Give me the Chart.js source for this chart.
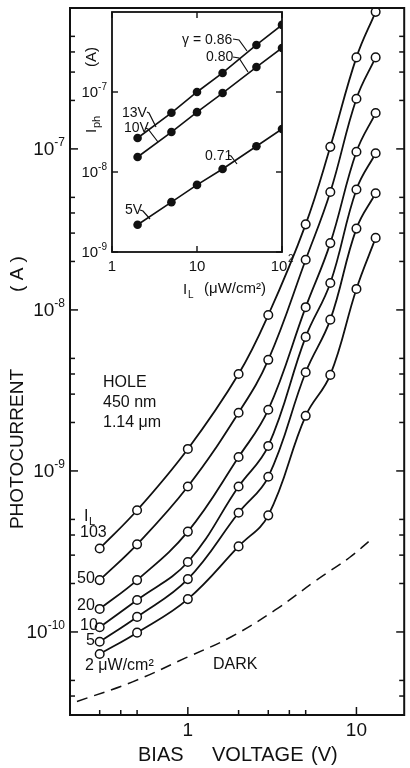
<!DOCTYPE html>
<html>
<head>
<meta charset="utf-8">
<script src="https://cdn.jsdelivr.net/npm/chart.js@4.4.1/dist/chart.umd.min.js"></script>
<style>
html, body { margin: 0; padding: 0; background: #fff; }
#wrap { position: relative; width: 410px; height: 768px; }
#wrap canvas { position: absolute; left: 0; top: 0; }
#insetChart { pointer-events: none; }
</style>
</head>
<body>
<div id="wrap">
  <canvas id="mainChart" width="410" height="768"></canvas>
  <canvas id="insetChart" width="410" height="768"></canvas>
</div>
<script>
// main plot: photocurrent (A) vs bias voltage (V), one curve per light intensity (uW/cm2)
var biasVoltage = [0.3, 0.5, 1, 2, 3, 5, 7, 10, 13];
var intensityLabels = ['103', '50', '20', '10', '5', '2'];
var photo103 = [3.3e-10, 5.7e-10, 1.37e-9, 4.0e-9, 9.3e-9, 3.4e-8, 1.03e-7, 3.7e-7, 7.1e-7];
var photo50  = [2.1e-10, 3.5e-10, 8.0e-10, 2.3e-9, 4.9e-9, 2.05e-8, 5.4e-8, 2.05e-7, 3.7e-7];
var photo20  = [1.39e-10, 2.1e-10, 4.2e-10, 1.22e-9, 2.4e-9, 1.04e-8, 2.6e-8, 9.6e-8, 1.67e-7];
var photo10  = [1.07e-10, 1.58e-10, 2.72e-10, 8.0e-10, 1.43e-9, 6.8e-9, 1.47e-8, 5.6e-8, 9.4e-8];
var photo5   = [8.7e-11, 1.24e-10, 2.13e-10, 5.5e-10, 9.2e-10, 4.1e-9, 8.7e-9, 3.2e-8, 5.3e-8];
var photo2   = [7.3e-11, 9.9e-11, 1.6e-10, 3.4e-10, 5.3e-10, 2.2e-9, 3.95e-9, 1.35e-8, 2.8e-8];
var darkVoltage = [0.22, 0.47, 0.97, 1.8, 3.3, 5.8, 9.1, 12.4];
var darkCurrent = [3.7e-11, 4.9e-11, 6.9e-11, 9.3e-11, 1.37e-10, 2.1e-10, 2.9e-10, 3.8e-10];

var xTickValues = [0.3, 0.4, 0.5, 1, 2, 3, 4, 5, 10];
var xTickLabels = ['1', '10'];
var yTickValues = [4e-11, 5e-11, 1e-10, 2e-10, 3e-10, 4e-10, 5e-10, 1e-9, 2e-9, 3e-9, 4e-9, 5e-9,
                   1e-8, 2e-8, 3e-8, 4e-8, 5e-8, 1e-7, 2e-7, 3e-7, 4e-7, 5e-7];
var yDecades = [-10, -9, -8, -7];

// inset: photocurrent vs light intensity at fixed bias
var insetIntensity = [2, 5, 10, 20, 50, 100];
var inset13V = [2.66e-8, 5.5e-8, 1.0e-7, 1.73e-7, 3.87e-7, 6.9e-7];
var inset10V = [1.54e-8, 3.16e-8, 5.6e-8, 9.7e-8, 2.05e-7, 3.55e-7];
var inset5V  = [2.19e-9, 4.2e-9, 6.9e-9, 1.09e-8, 2.1e-8, 3.45e-8];
var insetXTicks = [1, 10, 100];
var insetYDecades = [-9, -8, -7];

var FONT = '"Liberation Sans", Arial, sans-serif';
var INK = '#111';

function pairs(xs, ys) {
    return xs.map(function(x, i) { return { x: x, y: ys[i] }; });
}

function isDecade(v) {
    var l = Math.log10(v);
    return Math.abs(l - Math.round(l)) < 1e-6;
}

function line(ctx, x1, y1, x2, y2) {
    ctx.beginPath();
    ctx.moveTo(x1, y1);
    ctx.lineTo(x2, y2);
    ctx.stroke();
}

// "10" with a raised exponent, right edge at xr, vertically centred on y
function powLabel(ctx, exp, xr, y, size, supSize) {
    ctx.textBaseline = 'middle';
    ctx.textAlign = 'left';
    ctx.font = size + 'px ' + FONT;
    var w1 = ctx.measureText('10').width;
    ctx.font = supSize + 'px ' + FONT;
    var w2 = ctx.measureText(exp).width;
    var x0 = xr - w1 - w2;
    ctx.font = size + 'px ' + FONT;
    ctx.fillText('10', x0, y);
    ctx.font = supSize + 'px ' + FONT;
    ctx.fillText(exp, x0 + w1, y - size * 0.38);
}

function text(ctx, s, x, y, size, align) {
    ctx.font = size + 'px ' + FONT;
    ctx.textAlign = align || 'left';
    ctx.textBaseline = 'middle';
    ctx.fillText(s, x, y);
}

var curveSets = [photo103, photo50, photo20, photo10, photo5, photo2];
var mainDatasets = curveSets.map(function(vals, i) {
    return {
        label: intensityLabels[i],
        data: pairs(biasVoltage, vals),
        borderColor: INK,
        borderWidth: 1.8,
        tension: 0.4,
        pointRadius: 4.3,
        pointBackgroundColor: '#fff',
        pointBorderColor: INK,
        pointBorderWidth: 1.5
    };
});
mainDatasets.push({
    label: 'DARK',
    data: pairs(darkVoltage, darkCurrent),
    borderColor: INK,
    borderWidth: 1.5,
    borderDash: [11, 7],
    tension: 0.4,
    pointRadius: 0
});

var mainDecor = {
    id: 'mainDecor',
    afterDraw: function(chart) {
        var ctx = chart.ctx, a = chart.chartArea;
        var xs = chart.scales.x, ys = chart.scales.y;
        ctx.save();
        ctx.strokeStyle = INK;
        ctx.fillStyle = INK;
        ctx.lineWidth = 2;
        ctx.strokeRect(a.left, a.top, a.right - a.left, a.bottom - a.top);
        ctx.lineWidth = 1.5;
        xTickValues.forEach(function(v) {
            var px = xs.getPixelForValue(v);
            var len = isDecade(v) ? 8 : 5;
            line(ctx, px, a.bottom, px, a.bottom - len);
        });
        yTickValues.forEach(function(v) {
            var py = ys.getPixelForValue(v);
            var len = isDecade(v) ? 8 : 5;
            line(ctx, a.left, py, a.left + len, py);
            line(ctx, a.right, py, a.right - len, py);
        });
        // tick labels
        xTickLabels.forEach(function(s) {
            text(ctx, s, xs.getPixelForValue(Number(s)), 731, 19, 'center');
        });
        yDecades.forEach(function(d) {
            powLabel(ctx, '-' + (-d), 65, ys.getPixelForValue(Math.pow(10, d)) + 1, 19, 12);
        });
        // axis titles
        text(ctx, 'BIAS', 138, 755, 20);
        text(ctx, 'VOLTAGE', 212, 755, 20);
        text(ctx, '(V)', 311, 755, 20);
        ctx.save();
        ctx.translate(18, 449);
        ctx.rotate(-Math.PI / 2);
        text(ctx, 'PHOTOCURRENT', 0, 0, 19, 'center');
        text(ctx, '( A )', 175, 0, 19, 'center');
        ctx.restore();
        // curve labels
        text(ctx, 'I', 84, 517, 16);
        text(ctx, 'L', 89, 522, 11);
        text(ctx, '103', 80, 533, 16);
        text(ctx, '50', 77, 579, 16);
        text(ctx, '20', 77, 606, 16);
        text(ctx, '10', 80, 626, 16);
        text(ctx, '5', 86, 641, 16);
        text(ctx, '2 \u03bcW/cm\u00b2', 85, 666, 16);
        text(ctx, 'DARK', 213, 665, 16);
        text(ctx, 'HOLE', 103, 383, 16);
        text(ctx, '450 nm', 103, 403, 16);
        text(ctx, '1.14 \u03bcm', 103, 423, 16);
        ctx.restore();
    }
};

new Chart(document.getElementById('mainChart'), {
    type: 'line',
    data: { datasets: mainDatasets },
    options: {
        responsive: false,
        animation: false,
        devicePixelRatio: 1,
        layout: { padding: { top: 8, right: 2, left: 0, bottom: 0 } },
        plugins: { legend: { display: false }, tooltip: { enabled: false } },
        scales: {
            x: {
                type: 'logarithmic', min: 0.2, max: 19.2,
                grid: { display: false }, border: { display: false }, ticks: { display: false },
                afterFit: function(s) { s.height = 53; }
            },
            y: {
                type: 'logarithmic', min: 3.05e-11, max: 7.5e-7,
                grid: { display: false }, border: { display: false }, ticks: { display: false },
                afterFit: function(s) { s.width = 70; }
            }
        }
    },
    plugins: [mainDecor]
});

var insetDatasets = [inset13V, inset10V, inset5V].map(function(vals, i) {
    return {
        label: ['13V', '10V', '5V'][i],
        data: pairs(insetIntensity, vals),
        borderColor: INK,
        borderWidth: 1.6,
        tension: 0,
        pointRadius: 4.3,
        pointBackgroundColor: INK,
        pointBorderColor: INK,
        pointBorderWidth: 0
    };
});

var insetDecor = {
    id: 'insetDecor',
    beforeDatasetsDraw: function(chart) {
        var ctx = chart.ctx, a = chart.chartArea;
        ctx.save();
        ctx.fillStyle = '#fff';
        ctx.fillRect(a.left, a.top, a.right - a.left, a.bottom - a.top);
        ctx.restore();
    },
    afterDraw: function(chart) {
        var ctx = chart.ctx, a = chart.chartArea;
        var xs = chart.scales.x, ys = chart.scales.y;
        ctx.save();
        ctx.strokeStyle = INK;
        ctx.fillStyle = INK;
        ctx.lineWidth = 1.8;
        ctx.strokeRect(a.left, a.top, a.right - a.left, a.bottom - a.top);
        ctx.lineWidth = 1.4;
        insetXTicks.forEach(function(v) {
            var px = xs.getPixelForValue(v);
            line(ctx, px, a.bottom, px, a.bottom - 6);
            line(ctx, px, a.top, px, a.top + 6);
        });
        insetYDecades.forEach(function(d) {
            var py = ys.getPixelForValue(Math.pow(10, d));
            line(ctx, a.left, py, a.left + 6, py);
            line(ctx, a.right, py, a.right - 6, py);
            powLabel(ctx, '-' + (-d), 107, py + 1, 15, 10);
        });
        text(ctx, '1', xs.getPixelForValue(1), 267, 15, 'center');
        text(ctx, '10', xs.getPixelForValue(10), 267, 15, 'center');
        text(ctx, '10', xs.getPixelForValue(100) - 3, 267, 15, 'center');
        text(ctx, '2', xs.getPixelForValue(100) + 6, 259, 10);
        text(ctx, 'I', 183, 290, 15);
        text(ctx, 'L', 188, 295, 10);
        text(ctx, '(\u03bcW/cm\u00b2)', 204, 289, 15);
        // inset y title
        ctx.save();
        ctx.translate(92, 133);
        ctx.rotate(-Math.PI / 2);
        text(ctx, 'I', 0, 0, 15);
        text(ctx, 'ph', 5, 5, 11);
        text(ctx, '(A)', 66, 0, 15);
        ctx.restore();
        // slopes and bias labels with leaders
        text(ctx, '\u03b3 = 0.86', 182, 40, 14);
        text(ctx, '0.80', 206, 57, 14);
        text(ctx, '13V', 122, 113, 14);
        text(ctx, '10V', 124, 128, 14);
        text(ctx, '0.71', 205, 156, 14);
        text(ctx, '5V', 125, 210, 14);
        ctx.lineWidth = 1.2;
        [[233, 39, 239, 40, 247, 51], [233, 57, 239, 58, 248, 72], [147, 112, 149, 113, 156, 127],
         [145, 128, 148, 129, 158, 142], [228, 155, 231, 156, 237, 164], [140, 210, 143, 211, 150, 219]]
            .forEach(function(p) {
                ctx.beginPath();
                ctx.moveTo(p[0], p[1]);
                ctx.lineTo(p[2], p[3]);
                ctx.lineTo(p[4], p[5]);
                ctx.stroke();
            });
        ctx.restore();
    }
};

new Chart(document.getElementById('insetChart'), {
    type: 'line',
    data: { datasets: insetDatasets },
    options: {
        responsive: false,
        animation: false,
        devicePixelRatio: 1,
        layout: { padding: { top: 12, right: 128, left: 0, bottom: 0 } },
        plugins: { legend: { display: false }, tooltip: { enabled: false } },
        scales: {
            x: {
                type: 'logarithmic', min: 1, max: 100,
                grid: { display: false }, border: { display: false }, ticks: { display: false },
                afterFit: function(s) { s.height = 516; }
            },
            y: {
                type: 'logarithmic', min: 1e-9, max: 1e-6,
                grid: { display: false }, border: { display: false }, ticks: { display: false },
                afterFit: function(s) { s.width = 112; }
            }
        }
    },
    plugins: [insetDecor]
});
</script>
</body>
</html>
